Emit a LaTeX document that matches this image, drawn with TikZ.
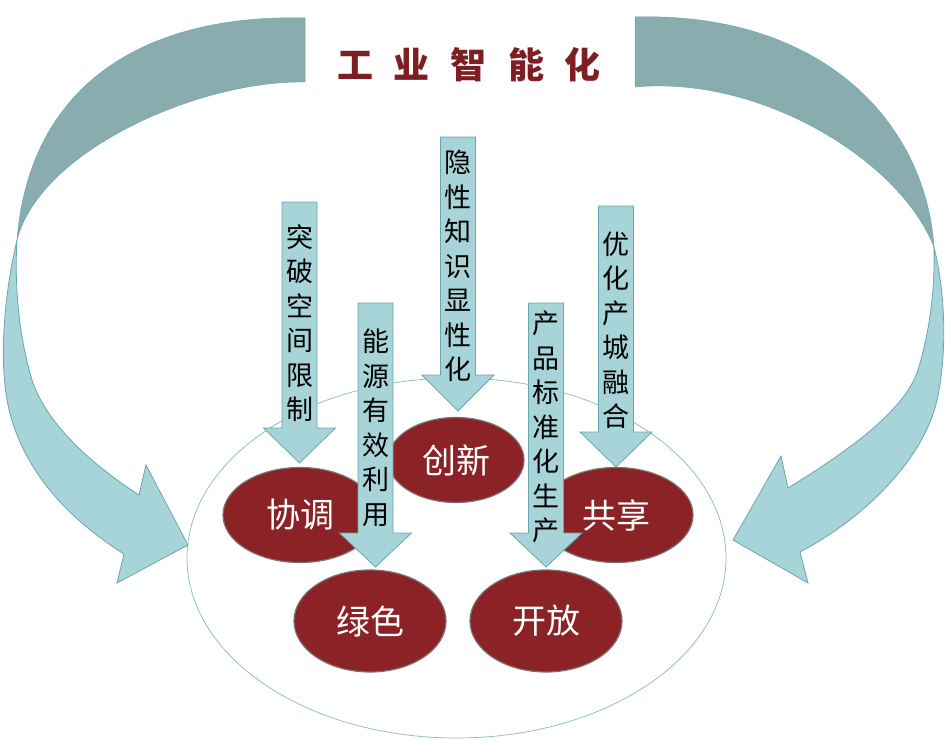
\documentclass[tikz,border=0pt]{standalone}
\usepackage{fontspec}
\newfontfamily\cjk{Noto Sans CJK SC}
\usetikzlibrary{shapes.geometric}
\definecolor{bandlight}{RGB}{166,212,216}
\definecolor{banddark}{RGB}{137,172,175}
\definecolor{bandedge}{RGB}{104,168,173}
\definecolor{wine}{RGB}{138,34,38}
\definecolor{rim}{RGB}{125,112,112}
\definecolor{titlered}{RGB}{125,30,35}
\tikzset{goal/.style={ellipse, fill=wine, draw=rim, line width=1.2pt, text=white,
    inner sep=0pt, font=\cjk\fontsize{34}{34}\selectfont},
  band/.style={fill=bandlight, draw=bandedge, line width=0.8pt},
  vtext/.style={align=center, inner sep=0pt, font=\cjk\fontsize{27}{34.5}\selectfont}}

\begin{document}
\begin{tikzpicture}[x=1pt,y=-1pt]
  \useasboundingbox (0,0) rectangle (947,741);
  \node (field) [ellipse, draw=bandedge!80, line width=0.7pt, minimum width=539pt,
    minimum height=360pt] at (456.5,558) {};
  % left curved arrow
  \filldraw[fill=banddark, draw=bandedge, line width=0.5pt] (305,18) .. controls (150,14) and (30,80) .. (17,240)
    .. controls (40,150) and (200,80) .. (305,82) -- cycle;
  \filldraw[band] (17,240) .. controls (3,300) and (0,360) .. (7,400)
    .. controls (20,470) and (70,520) .. (124,554) -- (117,583) -- (188,545) -- (146,465) -- (139,495)
    .. controls (85,460) and (45,420) .. (32,380) .. controls (20,340) and (14,290) .. (17,240) -- cycle;
  % right curved arrow
  \filldraw[fill=banddark, draw=bandedge, line width=0.5pt] (635,17) .. controls (820,12) and (925,120) .. (934,247)
    .. controls (900,160) and (760,75) .. (635,87) -- cycle;
  \filldraw[band] (934,247) .. controls (947,300) and (946,360) .. (937,400)
    .. controls (925,455) and (870,515) .. (800,552) -- (808,583) -- (733,540) -- (781,456) -- (788,488)
    .. controls (850,450) and (905,410) .. (918,370) .. controls (930,330) and (935,290) .. (934,247) -- cycle;

  \node (title) [font=\cjk\bfseries\fontsize{36}{36}\selectfont, text=titlered] at (469,65)
    {工\hspace{21pt}业\hspace{21pt}智\hspace{21pt}能\hspace{21pt}化};

  \node[goal, minimum width=154pt, minimum height=95pt] (xietiao) at (300,515) {协调};
  \node[goal, minimum width=136pt, minimum height=85pt] (chuangxin) at (456,460) {创新};
  \node[goal, minimum width=154pt, minimum height=95pt] (gongxiang) at (616,515) {共享};
  \node[goal, minimum width=152pt, minimum height=102pt] (lvse) at (370,621) {绿色};
  \node[goal, minimum width=152pt, minimum height=102pt] (kaifang) at (546,621) {开放};

  \foreach \cx/\ya/\yb/\yc in {299.5/202/428/463, 375.5/303/533/567, 458/137/375/411,
      546/303/533/567, 616/206/432/467}
    \filldraw[band] (\cx-17.5,\ya) -- (\cx+17.5,\ya) -- (\cx+17.5,\yb) -- (\cx+36,\yb)
      -- (\cx,\yc) -- (\cx-36,\yb) -- (\cx-17.5,\yb) -- cycle;

  \node[vtext] (tupo) at (299.5,323) {突\\破\\空\\间\\限\\制};
  \node[vtext] (nengyuan) at (375.5,428) {能\\源\\有\\效\\利\\用};
  \node[vtext] (yinxing) at (458,266) {隐\\性\\知\\识\\显\\性\\化};
  \node[vtext] (chanpin) at (546,427) {产\\品\\标\\准\\化\\生\\产};
  \node[vtext] (youhua) at (616,330) {优\\化\\产\\城\\融\\合};
\end{tikzpicture}
\end{document}
